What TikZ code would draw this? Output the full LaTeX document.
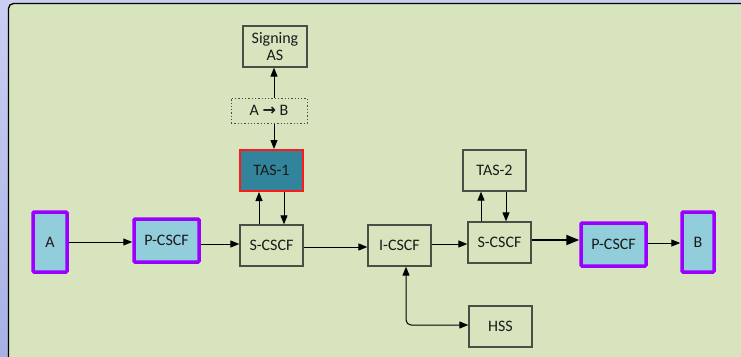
\documentclass[tikz,border=0pt]{standalone}
\usepackage{fontspec}
\setmainfont{Carlito}
\newfontfamily\arrowfont{DejaVu Sans}
\usetikzlibrary{arrows.meta,calc}
\definecolor{outerTop}{HTML}{CACFF2}
\definecolor{outerBot}{HTML}{A7B1E6}
\definecolor{panel}{HTML}{D8E4BE}
\definecolor{boxline}{HTML}{4A4F45}
\definecolor{lightblue}{HTML}{92CDDC}
\definecolor{teal}{HTML}{31849B}
\definecolor{violet}{HTML}{9B00FF}
\definecolor{redline}{HTML}{FF1A1A}
\definecolor{txt}{HTML}{1A1A1A}
\tikzset{
  box/.style={draw=boxline, line width=1.3pt, inner sep=0pt, align=center,
    text=txt, font=\fontsize{16}{17}\selectfont},
  endpt/.style={box, draw=violet, line width=3.5pt, fill=lightblue, rounded corners=1pt},
  arr/.style={draw=black, line width=1pt, -{Triangle[length=9pt,width=7pt]}},
  bigarr/.style={draw=black, line width=2pt, -{Triangle[length=13pt,width=10pt]}},
}
\begin{document}
\begin{tikzpicture}[x=1pt,y=-1pt]
\useasboundingbox (0,0) rectangle (741,356);
\begin{scope}
\clip (0,0) rectangle (741,356);
\shade[top color=outerTop, bottom color=outerBot] (0,0) rectangle (741,356);
\draw[fill=panel, draw=black, line width=1.3pt, rounded corners=5pt] (8.5,3.5) rectangle (760,370);
\end{scope}

\node[box, minimum width=64, minimum height=41] (sig) at (275,46.5) {Signing\\AS};
\node[box, dotted, line width=1pt, minimum width=76, minimum height=25] (ab) at (269,110.5) {A {\arrowfont\bfseries →} B};
\node[box, draw=redline, line width=2pt, fill=teal, minimum width=63, minimum height=41] (tas1) at (271.5,170.5) {TAS-1};
\node[endpt, minimum width=34, minimum height=60] (A) at (50,242) {A};
\node[endpt, minimum width=65, minimum height=43] (pl) at (166.5,240.5) {P-CSCF};
\node[box, minimum width=63, minimum height=41] (sl) at (271.5,245.5) {S-CSCF};
\node[box, minimum width=63, minimum height=41] (ic) at (399.5,245.5) {I-CSCF};
\node[box, minimum width=63, minimum height=41] (sr) at (499.5,242.5) {S-CSCF};
\node[box, minimum width=63, minimum height=41] (tas2) at (494.5,170.5) {TAS-2};
\node[endpt, minimum width=65, minimum height=43] (pr) at (613.5,244.5) {P-CSCF};
\node[endpt, minimum width=32, minimum height=60] (B) at (698,242) {B};
\node[box, minimum width=63, minimum height=41] (hss) at (500.5,326.5) {HSS};

\coordinate (ax) at (274,0);
\draw[arr] (ab.north -| ax) -- (sig.south -| ax);
\draw[arr] (ab.south -| ax) -- (tas1.north -| ax);

\draw[arr] (A.east) -- (A.east -| pl.west);
\coordinate (y1) at (0,244);
\draw[arr] (pl.east |- y1) -- (sl.west |- y1);
\coordinate (y2) at (0,247);
\draw[arr] (sl.east |- y2) -- (ic.west |- y2);
\coordinate (u1) at (259,0);
\coordinate (d1) at (284,0);
\draw[arr] (sl.north -| u1) -- (tas1.south -| u1);
\draw[arr] (tas1.south -| d1) -- (sl.north -| d1);

\coordinate (y3) at (0,244);
\draw[arr] (ic.east |- y3) -- (sr.west |- y3);
\coordinate (u2) at (481,0);
\coordinate (d2) at (506,0);
\draw[arr] (sr.north -| u2) -- (tas2.south -| u2);
\draw[arr] (tas2.south -| d2) -- (sr.north -| d2);

\coordinate (y4) at (0,240);
\draw[bigarr] (sr.east |- y4) -- (pr.west |- y4);
\coordinate (y5) at (0,243);
\draw[arr] (pr.east |- y5) -- (B.west |- y5);

\coordinate (hx) at (406,0);
\coordinate (hy) at (0,325);
\draw[draw=black, line width=1pt, {Triangle[length=9pt,width=7pt]}-{Triangle[length=9pt,width=7pt]}, rounded corners=5pt]
  (ic.south -| hx) -- (hx |- hy) -- (hss.west |- hy);
\end{tikzpicture}
\end{document}
